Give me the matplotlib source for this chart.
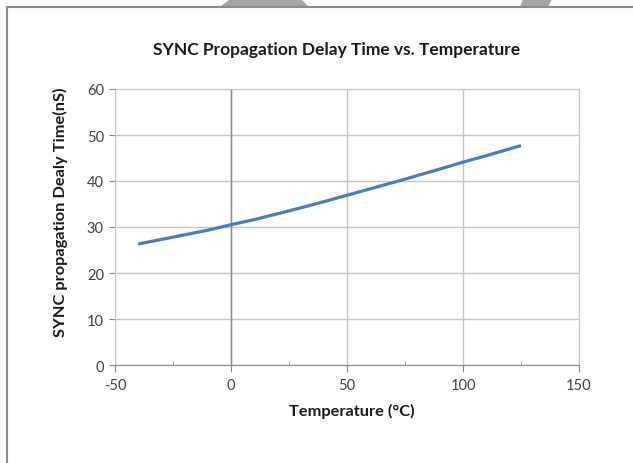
import matplotlib
matplotlib.use("Agg")
import matplotlib.pyplot as plt
from matplotlib.patches import Polygon, Rectangle
from matplotlib.ticker import MultipleLocator

# values
temperature = [-40, -25, -10, 0, 10, 25, 40, 50, 60, 75, 90, 100, 110, 125]
delay_ns = [26.3, 27.8, 29.3, 30.5, 31.6, 33.5, 35.5, 36.9, 38.3, 40.4, 42.6, 44.1, 45.5, 47.7]

x_ticks = [-50, 0, 50, 100, 150]
y_ticks = [0, 10, 20, 30, 40, 50, 60]

W, H = 633, 464
plt.rcParams["font.family"] = ["Lato", "DejaVu Sans"]
plt.rcParams["axes.unicode_minus"] = False

fig = plt.figure(figsize=(W / 100, H / 100), dpi=100)
fig.patch.set_facecolor("white")


def px(x, y):
    return (x / W, 1 - y / H)


# gray watermark fragments above the chart frame
for pts in ([(220, 8), (230, 0), (301, 0), (309, 8)],
            [(520, 8), (523, 0), (552, 0), (548, 8)]):
    fig.add_artist(Polygon([px(*p) for p in pts], closed=True,
                           transform=fig.transFigure, facecolor="#a6a6a6",
                           edgecolor="none"))

# chart frame (runs off the right and bottom edges)
fig.add_artist(Rectangle(px(7, 480), (640 - 7) / W, (480 - 8) / H,
                         transform=fig.transFigure, fill=False,
                         edgecolor="#8c8c8c", linewidth=1.5))

ax = fig.add_axes([115 / W, 1 - 366 / H, (579 - 115) / W, (366 - 90) / H])
ax.set_xlim(-50, 150)
ax.set_ylim(0, 60)

ax.grid(True, color="#c6c6c6", linewidth=1.0)
ax.set_axisbelow(True)
ax.axvline(0, color="#8a8a8a", linewidth=1.0, zorder=1)

ax.plot(temperature, delay_ns, color="#4a7ebb", linewidth=2.3,
        solid_capstyle="butt", zorder=3)

for side in ("top", "left", "right"):
    ax.spines[side].set_color("#c6c6c6")
ax.spines["bottom"].set_color("#8a8a8a")

ax.set_xticks(x_ticks)
ax.set_yticks(y_ticks)
ax.xaxis.set_minor_locator(MultipleLocator(25))
ax.tick_params(axis="x", which="major", direction="out", length=5,
               color="#8a8a8a", labelsize=10.5, labelcolor="#404040", pad=4)
ax.tick_params(axis="x", which="minor", direction="in", length=3,
               color="#8a8a8a")
ax.tick_params(axis="y", direction="out", length=4, color="#8a8a8a",
               labelsize=10.5, labelcolor="#404040", pad=4)

fig.text(337 / W, 1 - 50 / H, "SYNC Propagation Delay Time vs. Temperature",
         ha="center", va="center", fontsize=12.5, fontweight="bold",
         color="#1a1a1a")
fig.text(352 / W, 1 - 411 / H, "Temperature (°C)", ha="center", va="center",
         fontsize=11.8, fontweight="bold", color="#1a1a1a")
fig.text(60 / W, 1 - 212 / H, "SYNC propagation Dealy Time(nS)",
         ha="center", va="center", rotation=90, fontsize=11.8,
         fontweight="bold", color="#1a1a1a")

fig.savefig("out.png", dpi=100)
